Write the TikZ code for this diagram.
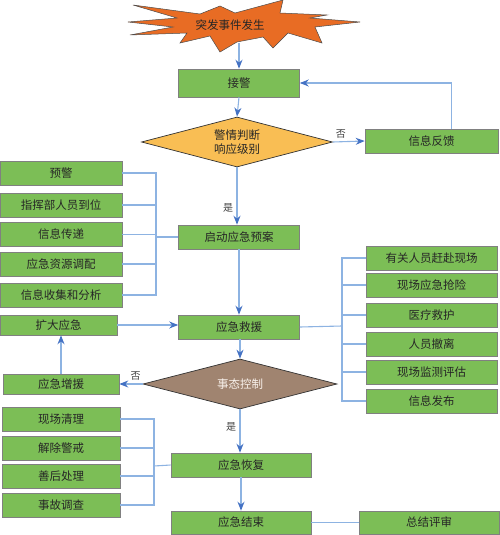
\documentclass[tikz,border=0pt]{standalone}
\usepackage{fontspec}
\setmainfont{Noto Sans CJK SC}
\usepackage{tikz}
\usetikzlibrary{shapes.geometric, arrows.meta}
\definecolor{boxgreen}{RGB}{124,190,86}
\definecolor{boxedge}{RGB}{128,128,128}
\definecolor{lineblue}{RGB}{141,179,226}
\definecolor{tipblue}{RGB}{68,114,196}
\definecolor{burstorange}{RGB}{232,108,36}
\definecolor{judgeorange}{RGB}{249,190,84}
\definecolor{ctrlbrown}{RGB}{160,132,112}
\tikzset{x=1pt, y=-1pt,
  every node/.style={font=\fontsize{11.5pt}{13pt}\selectfont, text=black!85},
  task/.style={draw=boxedge, line width=0.6pt, fill=boxgreen, rectangle, inner sep=0pt, minimum height=24pt},
  judge/.style={draw=black!80, line width=0.7pt, diamond, aspect=3.8, inner sep=0pt},
  link/.style={draw=lineblue, line width=1.1pt},
  flow/.style={link, -{Stealth[length=9pt, width=7pt, color=tipblue]}},
  tag/.style={font=\fontsize{10pt}{12pt}\selectfont, text=black!75}}

\begin{document}
\begin{tikzpicture}
	\useasboundingbox (0,0) rectangle (500,535);
	% burst
	\fill[burstorange, draw=black!70, line width=0.5pt]
		(133,5) -- (200,14) -- (220,6) -- (235,13) -- (283,0) -- (280,13) -- (327,15) -- (310,18)
		-- (360,22) -- (315,27) -- (322,43) -- (288,33) -- (273,48) -- (263,37) -- (237,42) -- (220,52)
		-- (210,36) -- (180,43) -- (187,33) -- (130,35) -- (173,27) -- (128,22) -- (177,18) -- cycle;
	\node (burst) at (230,25) {突发事件发生};
	\coordinate (burst bottom) at (239,43);
	% main column
	\node[task, minimum width=121pt, minimum height=28pt] (jiejing) at (239,83) {接警};
	\node[judge, fill=judgeorange, minimum width=191pt, minimum height=50pt, align=center,
		font=\fontsize{11.5pt}{14pt}\selectfont] (panduan) at (237,142) {警情判断\\响应级别};
	\node[task, minimum width=133pt] (fankui) at (431.5,141) {信息反馈};
	\node[task, minimum width=121pt] (qidong) at (239,237) {启动应急预案};
	\node[task, minimum width=121pt] (jiuyuan) at (239,327) {应急救援};
	\node[judge, fill=ctrlbrown, minimum width=194pt, minimum height=50pt, text=white!90!brown] (kongzhi) at (240,384) {事态控制};
	\node[task, minimum width=140pt] (huifu) at (241,465) {应急恢复};
	\node[task, minimum width=140pt, minimum height=23pt] (jieshu) at (241,522.5) {应急结束};
	\node[task, minimum width=140pt, minimum height=23pt] (pingshen) at (429,522.5) {总结评审};
	% left column
	\node[task, minimum width=122pt] (yujing) at (61,173) {预警};
	\node[task, minimum width=122pt] (daowei) at (61,205) {指挥部人员到位};
	\node[task, minimum width=122pt] (chuandi) at (61,234.5) {信息传递};
	\node[task, minimum width=122pt] (tiaopei) at (61,264) {应急资源调配};
	\node[task, minimum width=122pt] (fenxi) at (61,295) {信息收集和分析};
	\node[task, minimum width=117pt, minimum height=20pt] (kuoda) at (58.5,325) {扩大应急};
	\node[task, minimum width=116pt, minimum height=20pt] (zengyuan) at (61,384) {应急增援};
	\node[task, minimum width=118pt] (qingli) at (61,419) {现场清理};
	\node[task, minimum width=118pt] (jiechu) at (61,448) {解除警戒};
	\node[task, minimum width=118pt] (shanhou) at (61,476) {善后处理};
	\node[task, minimum width=118pt] (diaocha) at (61,505) {事故调查};
	% right column
	\node[task, minimum width=131pt] (ganfu) at (431.5,258) {有关人员赶赴现场};
	\node[task, minimum width=131pt] (qiangxian) at (431.5,285) {现场应急抢险};
	\node[task, minimum width=131pt] (jiuhu) at (431.5,315) {医疗救护};
	\node[task, minimum width=131pt] (chegli) at (431.5,344) {人员撤离};
	\node[task, minimum width=131pt] (pinggu) at (431.5,372) {现场监测评估};
	\node[task, minimum width=131pt] (fabu) at (431.5,401) {信息发布};
	% bracket joints
	\coordinate (left join) at (156,237);
	\coordinate (right join) at (342,326);
	\coordinate (low join) at (154,466);
	% flow
	\draw[flow] (burst bottom) -- (jiejing.north);
	\draw[flow] (jiejing.south) -- (panduan.north);
	\draw[flow] (panduan.east) -- node[tag, above, pos=0.25] {否} (fankui.west);
	\draw[flow] ([xshift=20pt]fankui.north) |- (jiejing.east);
	\draw[flow] (panduan.south) -- node[tag, left, pos=0.7] {是} (panduan.south |- qidong.north);
	\draw[flow] (qidong.south) -- (jiuyuan.north);
	\draw[flow] (kuoda.east) -- (kuoda.east -| jiuyuan.west);
	\draw[flow] (jiuyuan.south) -- (jiuyuan.south -| kongzhi.north) -- (kongzhi.north);
	\draw[flow] (kongzhi.west) -- node[tag, above, pos=0.3] {否} (zengyuan.east);
	\draw[flow] (zengyuan.north) -- (zengyuan.north |- kuoda.south);
	\draw[flow] (kongzhi.south) -- node[tag, left, pos=0.4] {是} (kongzhi.south |- huifu.north);
	\draw[flow] (huifu.south) -- (jieshu.north);
	\draw[link] (jieshu.east) -- (pingshen.west);
	% brackets
	\draw[link] (qidong.west) -- (left join);
	\foreach \n in {yujing, daowei, chuandi, tiaopei, fenxi}
		\draw[link] (\n.east) -| (left join);
	\draw[link] (jiuyuan.east) -- (right join);
	\foreach \n in {ganfu, qiangxian, jiuhu, chegli, pinggu, fabu}
		\draw[link] (\n.west) -| (right join);
	\draw[link] (huifu.west) -- (low join);
	\foreach \n in {qingli, jiechu, shanhou, diaocha}
		\draw[link] (\n.east) -| (low join);
\end{tikzpicture}
\end{document}
